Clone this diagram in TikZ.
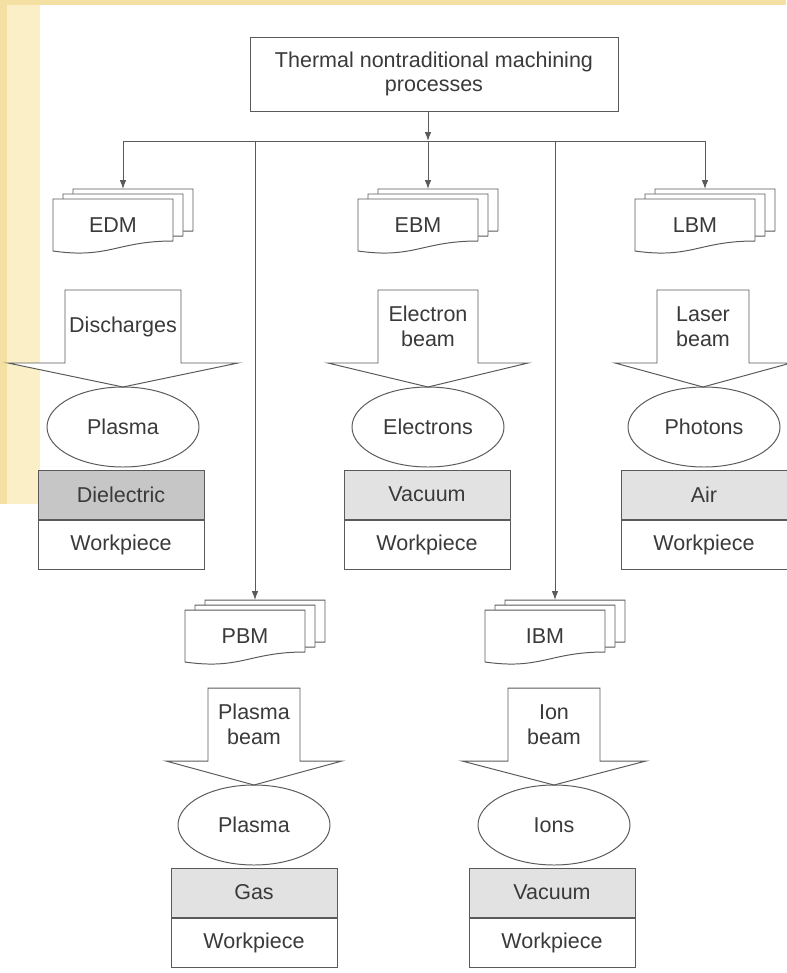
\documentclass[tikz,border=0pt]{standalone}
\usepackage{fontspec}
\setmainfont{Liberation Sans}
\usetikzlibrary{positioning,shapes.geometric,arrows.meta}

\definecolor{ink}{HTML}{3A3A3A}
\definecolor{edge}{HTML}{5A5A5A}
\definecolor{darkmed}{HTML}{C6C6C6}
\definecolor{lightmed}{HTML}{E2E2E2}
\definecolor{wash}{HTML}{FBEFC8}
\definecolor{band}{HTML}{F4E0A2}

% stack of three pages: name, centre x, top of front page, text
\newcommand{\docstack}[4]{%
    \foreach \s in {2,1,0}
        \draw[fill=white] (#2-1.75+0.25*\s, #3+0.125*\s) -- ++(3,0) -- ++(0,-1.05)
            .. controls +(-1.4,0) and +(1.4,-0.2) .. ++(-3,-0.25) -- cycle;
    \node (#1) at (#2-0.25, #3-0.65) {#4};
    \coordinate (#1-top) at (#2, #3+0.25);
}
% block arrow: name, centre x, top, shoulder, tip, half shaft, half head, text
\newcommand{\beamarrow}[8]{%
    \draw[fill=white] (#2-#6, #3) -- (#2+#6, #3) -- (#2+#6, #4) -- (#2+#7, #4)
        -- (#2, #5) -- (#2-#7, #4) -- (#2-#6, #4) -- cycle;
    \node[align=center] (#1) at (#2, 0.5*#3+0.5*#4) {#8};
}

\begin{document}
\begin{tikzpicture}[
        font=\fontsize{15.3}{17.5}\selectfont, color=edge, text=ink, line width=0.7pt,
        >={Latex[length=2.2mm,width=1.6mm]},
        medium/.style={draw, minimum width=4.15cm, minimum height=1.225cm, inner sep=0pt},
        blob/.style={draw, ellipse, minimum width=3.8cm, minimum height=2cm, inner sep=0pt}
    ]
    \useasboundingbox (0,0) rectangle (19.65,-24.325);
    % scan wash at the edges
    \fill[wash] (0,-0.125) rectangle (1.0,-12.6);
    \fill[band] (0,0) rectangle (19.65,-0.125);
    \fill[band] (0,-0.125) rectangle (0.18,-12.6);

    % Title and bus
    \node[draw, minimum width=9.2cm, minimum height=1.85cm, align=center] (title)
        at (10.85,-1.85) {Thermal nontraditional machining\\processes};
    \coordinate (b-edm) at (3.075,-3.525);
    \coordinate (b-pbm) at (6.375,-3.525);
    \coordinate (b-ebm) at (10.7,-3.525);
    \coordinate (b-ibm) at (13.875,-3.525);
    \coordinate (b-lbm) at (17.625,-3.525);
    \draw[->] (title.south -| b-ebm) -- (b-ebm);
    \draw (b-edm) -- (b-lbm);

    % Process stacks
    \docstack{edm}{3.075}{-4.975}{EDM}
    \docstack{ebm}{10.7}{-4.975}{EBM}
    \docstack{lbm}{17.625}{-4.975}{LBM}
    \docstack{pbm}{6.375}{-15.25}{PBM}
    \docstack{ibm}{13.875}{-15.25}{IBM}
    \foreach \n in {edm,pbm,ebm,ibm,lbm}
        \draw[->] (b-\n) -- (\n-top);

    % Energy sources
    \beamarrow{edm-beam}{3.075}{-7.25}{-9.075}{-9.675}{1.45}{2.875}{Discharges}
    \beamarrow{ebm-beam}{10.7}{-7.25}{-9.075}{-9.675}{1.25}{2.5}{Electron\\beam}
    \beamarrow{lbm-beam}{17.575}{-7.25}{-9.075}{-9.675}{1.15}{2.2}{Laser\\beam}
    \beamarrow{pbm-beam}{6.35}{-17.2}{-19.025}{-19.625}{1.15}{2.2}{Plasma\\beam}
    \beamarrow{ibm-beam}{13.85}{-17.2}{-19.025}{-19.625}{1.15}{2.3}{Ion\\beam}

    % Carriers
    \node[blob] (edm-blob) at (3.075,-10.675) {Plasma};
    \node[blob] (ebm-blob) at (10.7,-10.675) {Electrons};
    \node[blob] (lbm-blob) at (17.6,-10.675) {Photons};
    \node[blob] (pbm-blob) at (6.35,-20.625) {Plasma};
    \node[blob] (ibm-blob) at (13.85,-20.625) {Ions};

    % Medium and workpiece
    \node[medium, fill=darkmed] (edm-med) at (3.025,-12.3625) {Dielectric};
    \node[medium, fill=lightmed] (ebm-med) at (10.675,-12.3625) {Vacuum};
    \node[medium, fill=lightmed] (lbm-med) at (17.6,-12.3625) {Air};
    \node[medium, fill=lightmed] (pbm-med) at (6.35,-22.3125) {Gas};
    \node[medium, fill=lightmed] (ibm-med) at (13.8,-22.3125) {Vacuum};
    \foreach \n in {edm,ebm,lbm,pbm,ibm}
        \node[medium, below=0pt of \n-med] (\n-work) {Workpiece};
\end{tikzpicture}
\end{document}
